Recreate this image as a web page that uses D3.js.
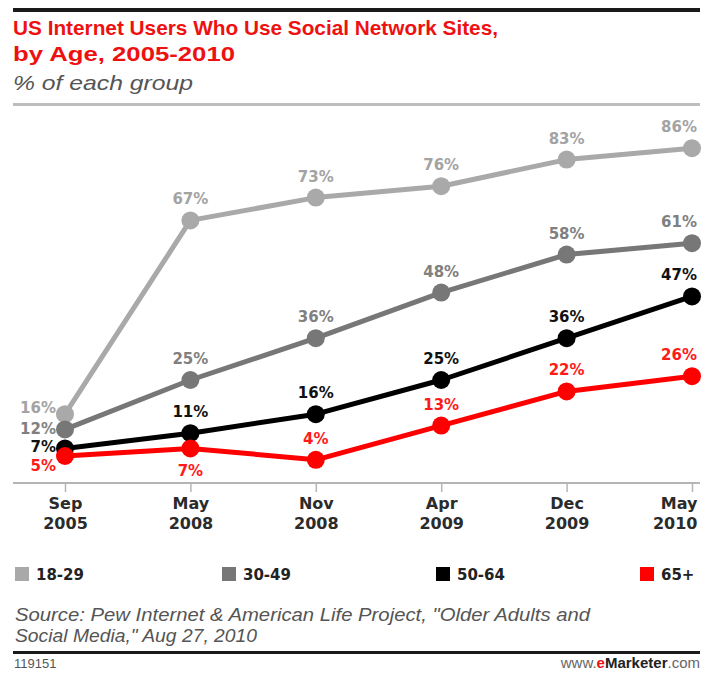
<!DOCTYPE html>
<html>
<head>
<meta charset="utf-8">
<script src="https://cdn.jsdelivr.net/npm/d3@7"></script>
<style>
  body { margin: 0; background: #fff; }
  svg { display: block; }
</style>
</head>
<body>
<div id="chart"></div>
<script>
// data
const months = ['Sep', 'May', 'Nov', 'Apr', 'Dec', 'May'];
const years = ['2005', '2008', '2008', '2009', '2009', '2010'];
const categories = months.map((m, i) => m + ' ' + years[i]);

const ageGroups = ['18-29', '30-49', '50-64', '65+'];
const age18to29 = [16, 67, 73, 76, 83, 86];
const age30to49 = [12, 25, 36, 48, 58, 61];
const age50to64 = [7, 11, 16, 25, 36, 47];
const age65plus = [5, 7, 4, 13, 22, 26];

const chart = {
  width: 708,
  height: 675,
  left: 13,
  right: 700,
};

const series = [
  { name: ageGroups[0], values: age18to29, color: '#a9a9a9', text: '#a3a3a3' },
  { name: ageGroups[1], values: age30to49, color: '#777777', text: '#808080' },
  { name: ageGroups[2], values: age50to64, color: '#000000', text: '#111111' },
  { name: ageGroups[3], values: age65plus, color: '#ff0000', text: '#ff1a1a' },
];

const svg = d3.select('#chart')
              .append('svg')
              .attr('width', chart.width)
              .attr('height', chart.height);

// header rules
svg.append('rect')
   .attr('x', chart.left).attr('y', 8)
   .attr('width', chart.right - chart.left).attr('height', 4)
   .attr('fill', '#1a1a1a');

svg.append('rect')
   .attr('x', chart.left).attr('y', 103)
   .attr('width', chart.right - chart.left).attr('height', 3)
   .attr('fill', '#bdbdbd');

const titleFont = '"Liberation Sans", Arial, sans-serif';
const labelFont = '"DejaVu Sans", Verdana, sans-serif';

// stretch a text to the width it has in the picture
function fit(sel, w) {
  sel.attr('textLength', w).attr('lengthAdjust', 'spacingAndGlyphs');
}

svg.append('text')
   .attr('x', chart.left).attr('y', 35)
   .attr('font-family', titleFont).attr('font-weight', 'bold')
   .attr('font-size', 21).attr('fill', '#ee1111')
   .text('US Internet Users Who Use Social Network Sites,')
   .call(fit, 485);

svg.append('text')
   .attr('x', chart.left).attr('y', 61)
   .attr('font-family', titleFont).attr('font-weight', 'bold')
   .attr('font-size', 21).attr('fill', '#ee1111')
   .text('by Age, 2005-2010')
   .call(fit, 222);

svg.append('text')
   .attr('x', chart.left).attr('y', 90)
   .attr('font-family', titleFont).attr('font-style', 'italic')
   .attr('font-size', 21).attr('fill', '#555')
   .text('% of each group')
   .call(fit, 180);

// scales
const x = d3.scalePoint()
            .domain(categories)
            .range([65, 692]);

const y = d3.scaleLinear()
            .domain([0, 100])
            .range([475, 95]);

const last = categories.length - 1;
const rightEdge = 697;

// baseline + axis
svg.append('line')
   .attr('x1', chart.left).attr('x2', chart.right)
   .attr('y1', 483).attr('y2', 483)
   .attr('stroke', '#b5b5b5').attr('stroke-width', 2);

const xAxis = svg.append('g')
                 .attr('transform', 'translate(0, 483)')
                 .call(d3.axisBottom(x).tickSize(9).tickFormat(''));

xAxis.select('.domain').remove();
xAxis.selectAll('.tick line').attr('stroke', '#b5b5b5').attr('stroke-width', 1.5);

const tickText = xAxis.selectAll('.tick')
                      .append('text')
                      .attr('text-anchor', (d, i) => i === last ? 'end' : 'middle')
                      .attr('font-family', labelFont).attr('font-weight', 'bold')
                      .attr('font-size', 16).attr('fill', '#2b2b2b');

const tickX = (d, i) => i === last ? rightEdge - x(d) : 0;

tickText.append('tspan').attr('x', tickX).attr('y', 26).text((d, i) => months[i]);
tickText.append('tspan').attr('x', tickX).attr('y', 46).text((d, i) => years[i]);

// lines
const line = d3.line()
               .x((d, i) => x(categories[i]))
               .y(d => y(d));

const group = svg.selectAll('.series')
                 .data(series)
                 .enter()
                 .append('g')
                 .attr('class', 'series');

group.append('path')
     .attr('d', d => line(d.values))
     .attr('fill', 'none')
     .attr('stroke', d => d.color)
     .attr('stroke-width', 5)
     .attr('stroke-linejoin', 'round');

group.selectAll('circle')
     .data(d => d.values.map(v => ({ v, color: d.color })))
     .enter()
     .append('circle')
     .attr('cx', (d, i) => x(categories[i]))
     .attr('cy', d => y(d.v))
     .attr('r', 9)
     .attr('fill', d => d.color);

// value labels: first point sits to the left, last one is kept inside, 65+ May 2008 sits below
group.selectAll('.val')
     .data((d, si) => d.values.map((v, i) => ({ v, i, si, color: d.text })))
     .enter()
     .append('text')
     .attr('class', 'val')
     .attr('font-family', labelFont).attr('font-weight', 'bold')
     .attr('font-size', 15)
     .attr('fill', d => d.color)
     .attr('text-anchor', d => d.i === 0 || d.i === last ? 'end' : 'middle')
     .attr('x', d => {
       if (d.i === 0) return x(categories[0]) - 9;
       if (d.i === last) return rightEdge;
       return x(categories[d.i]);
     })
     .attr('y', d => {
       const cy = y(d.v);
       if (d.i === 0) return [413, 434, 452, 471][d.si];
       if (d.si === 3 && d.i === 1) return cy + 28;
       return cy - 16;
     })
     .text(d => d.v + '%');

// legend
const legendX = [15, 222, 436, 640];

const legend = svg.selectAll('.legend')
                  .data(series)
                  .enter()
                  .append('g')
                  .attr('transform', (d, i) => `translate(${legendX[i]}, 567)`);

legend.append('rect')
      .attr('width', 14).attr('height', 14)
      .attr('fill', d => d.color);

legend.append('text')
      .attr('x', 21).attr('y', 13)
      .attr('font-family', labelFont).attr('font-weight', 'bold')
      .attr('font-size', 15).attr('fill', '#222')
      .text(d => d.name);

// source
svg.append('text')
   .attr('x', chart.left + 2).attr('y', 621)
   .attr('font-family', titleFont).attr('font-style', 'italic')
   .attr('font-size', 19).attr('fill', '#555')
   .text('Source: Pew Internet & American Life Project, "Older Adults and')
   .call(fit, 575);

svg.append('text')
   .attr('x', chart.left + 2).attr('y', 642)
   .attr('font-family', titleFont).attr('font-style', 'italic')
   .attr('font-size', 19).attr('fill', '#555')
   .text('Social Media," Aug 27, 2010')
   .call(fit, 242);

svg.append('rect')
   .attr('x', chart.left).attr('y', 651)
   .attr('width', chart.right - chart.left).attr('height', 3)
   .attr('fill', '#1a1a1a');

svg.append('text')
   .attr('x', chart.left + 1).attr('y', 668)
   .attr('font-family', titleFont).attr('font-size', 13).attr('fill', '#555')
   .text('119151');

const brand = svg.append('text')
                 .attr('x', chart.right).attr('y', 668)
                 .attr('text-anchor', 'end')
                 .attr('font-family', titleFont).attr('font-size', 15).attr('fill', '#666');

brand.append('tspan').text('www.');
brand.append('tspan').attr('fill', '#ee1111').attr('font-weight', 'bold').text('e');
brand.append('tspan').attr('fill', '#222').attr('font-weight', 'bold').text('Marketer');
brand.append('tspan').text('.com');
</script>
</body>
</html>
